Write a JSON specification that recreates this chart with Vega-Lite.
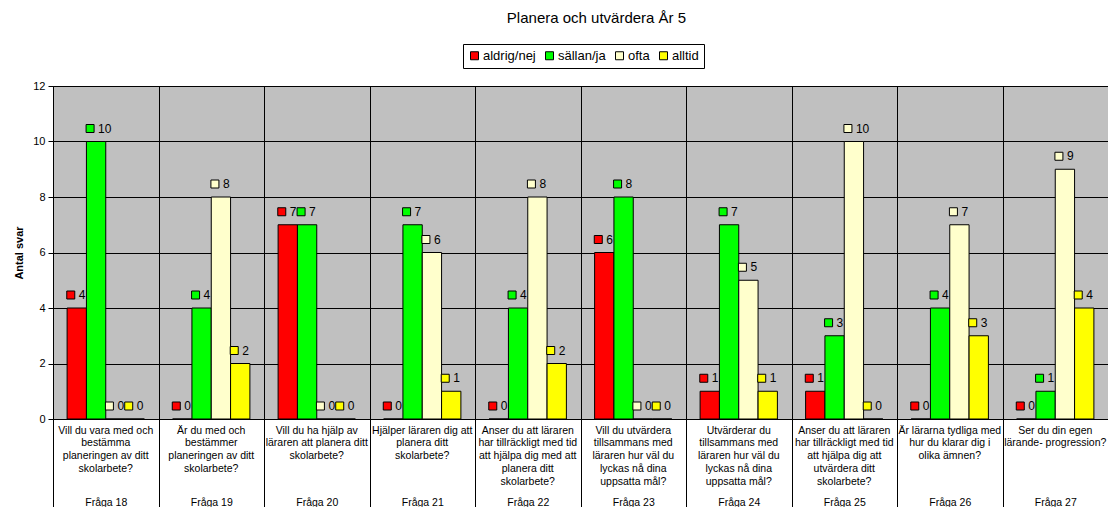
{
  "$schema": "https://vega.github.io/schema/vega-lite/v6.json",
  "autosize": "none",
  "padding": {"left": 53, "top": 86, "right": 0, "bottom": 88},
  "width": 1055,
  "height": 333,
  "background": "white",
  "title": {"text": "Planera och utvärdera År 5", "fontSize": 15, "fontWeight": "normal", "font": "Liberation Sans", "color": "black", "anchor": "middle", "dx": 16, "dy": 3, "offset": 21},
  "config": {
    "view": {"fill": "#c0c0c0", "stroke": null},
    "axis": {"domainColor": "black", "tickColor": "black", "gridColor": "black", "gridOpacity": 1, "labelColor": "black", "titleColor": "black", "labelFont": "Liberation Sans", "titleFont": "Liberation Sans"},
    "legend": {"labelFont": "Liberation Sans"}
  },
  "data": {"values": [
    {"q": "Vill du vara med och|bestämma|planeringen av ditt|skolarbete?#Fråga 18", "serie": "aldrig/nej", "antal": 4},
    {"q": "Vill du vara med och|bestämma|planeringen av ditt|skolarbete?#Fråga 18", "serie": "sällan/ja", "antal": 10},
    {"q": "Vill du vara med och|bestämma|planeringen av ditt|skolarbete?#Fråga 18", "serie": "ofta", "antal": 0},
    {"q": "Vill du vara med och|bestämma|planeringen av ditt|skolarbete?#Fråga 18", "serie": "alltid", "antal": 0},
    {"q": "Är du med och|bestämmer|planeringen av ditt|skolarbete?#Fråga 19", "serie": "aldrig/nej", "antal": 0},
    {"q": "Är du med och|bestämmer|planeringen av ditt|skolarbete?#Fråga 19", "serie": "sällan/ja", "antal": 4},
    {"q": "Är du med och|bestämmer|planeringen av ditt|skolarbete?#Fråga 19", "serie": "ofta", "antal": 8},
    {"q": "Är du med och|bestämmer|planeringen av ditt|skolarbete?#Fråga 19", "serie": "alltid", "antal": 2},
    {"q": "Vill du ha hjälp av|läraren att planera ditt|skolarbete?#Fråga 20", "serie": "aldrig/nej", "antal": 7},
    {"q": "Vill du ha hjälp av|läraren att planera ditt|skolarbete?#Fråga 20", "serie": "sällan/ja", "antal": 7},
    {"q": "Vill du ha hjälp av|läraren att planera ditt|skolarbete?#Fråga 20", "serie": "ofta", "antal": 0},
    {"q": "Vill du ha hjälp av|läraren att planera ditt|skolarbete?#Fråga 20", "serie": "alltid", "antal": 0},
    {"q": "Hjälper läraren dig att|planera ditt|skolarbete?#Fråga 21", "serie": "aldrig/nej", "antal": 0},
    {"q": "Hjälper läraren dig att|planera ditt|skolarbete?#Fråga 21", "serie": "sällan/ja", "antal": 7},
    {"q": "Hjälper läraren dig att|planera ditt|skolarbete?#Fråga 21", "serie": "ofta", "antal": 6},
    {"q": "Hjälper läraren dig att|planera ditt|skolarbete?#Fråga 21", "serie": "alltid", "antal": 1},
    {"q": "Anser du att läraren|har tillräckligt med tid|att hjälpa dig med att|planera ditt|skolarbete?#Fråga 22", "serie": "aldrig/nej", "antal": 0},
    {"q": "Anser du att läraren|har tillräckligt med tid|att hjälpa dig med att|planera ditt|skolarbete?#Fråga 22", "serie": "sällan/ja", "antal": 4},
    {"q": "Anser du att läraren|har tillräckligt med tid|att hjälpa dig med att|planera ditt|skolarbete?#Fråga 22", "serie": "ofta", "antal": 8},
    {"q": "Anser du att läraren|har tillräckligt med tid|att hjälpa dig med att|planera ditt|skolarbete?#Fråga 22", "serie": "alltid", "antal": 2},
    {"q": "Vill du utvärdera|tillsammans med|läraren hur väl du|lyckas nå dina|uppsatta mål?#Fråga 23", "serie": "aldrig/nej", "antal": 6},
    {"q": "Vill du utvärdera|tillsammans med|läraren hur väl du|lyckas nå dina|uppsatta mål?#Fråga 23", "serie": "sällan/ja", "antal": 8},
    {"q": "Vill du utvärdera|tillsammans med|läraren hur väl du|lyckas nå dina|uppsatta mål?#Fråga 23", "serie": "ofta", "antal": 0},
    {"q": "Vill du utvärdera|tillsammans med|läraren hur väl du|lyckas nå dina|uppsatta mål?#Fråga 23", "serie": "alltid", "antal": 0},
    {"q": "Utvärderar du|tillsammans med|läraren hur väl du|lyckas nå dina|uppsatta mål?#Fråga 24", "serie": "aldrig/nej", "antal": 1},
    {"q": "Utvärderar du|tillsammans med|läraren hur väl du|lyckas nå dina|uppsatta mål?#Fråga 24", "serie": "sällan/ja", "antal": 7},
    {"q": "Utvärderar du|tillsammans med|läraren hur väl du|lyckas nå dina|uppsatta mål?#Fråga 24", "serie": "ofta", "antal": 5},
    {"q": "Utvärderar du|tillsammans med|läraren hur väl du|lyckas nå dina|uppsatta mål?#Fråga 24", "serie": "alltid", "antal": 1},
    {"q": "Anser du att läraren|har tillräckligt med tid|att hjälpa dig att|utvärdera ditt|skolarbete?#Fråga 25", "serie": "aldrig/nej", "antal": 1},
    {"q": "Anser du att läraren|har tillräckligt med tid|att hjälpa dig att|utvärdera ditt|skolarbete?#Fråga 25", "serie": "sällan/ja", "antal": 3},
    {"q": "Anser du att läraren|har tillräckligt med tid|att hjälpa dig att|utvärdera ditt|skolarbete?#Fråga 25", "serie": "ofta", "antal": 10},
    {"q": "Anser du att läraren|har tillräckligt med tid|att hjälpa dig att|utvärdera ditt|skolarbete?#Fråga 25", "serie": "alltid", "antal": 0},
    {"q": "Är lärarna tydliga med|hur du klarar dig i|olika ämnen?#Fråga 26", "serie": "aldrig/nej", "antal": 0},
    {"q": "Är lärarna tydliga med|hur du klarar dig i|olika ämnen?#Fråga 26", "serie": "sällan/ja", "antal": 4},
    {"q": "Är lärarna tydliga med|hur du klarar dig i|olika ämnen?#Fråga 26", "serie": "ofta", "antal": 7},
    {"q": "Är lärarna tydliga med|hur du klarar dig i|olika ämnen?#Fråga 26", "serie": "alltid", "antal": 3},
    {"q": "Ser du din egen|lärande- progression?#Fråga 27", "serie": "aldrig/nej", "antal": 0},
    {"q": "Ser du din egen|lärande- progression?#Fråga 27", "serie": "sällan/ja", "antal": 1},
    {"q": "Ser du din egen|lärande- progression?#Fråga 27", "serie": "ofta", "antal": 9},
    {"q": "Ser du din egen|lärande- progression?#Fråga 27", "serie": "alltid", "antal": 4}
  ]},
  "encoding": {
    "xOffset": {"field": "serie", "type": "nominal", "sort": ["aldrig/nej", "sällan/ja", "ofta", "alltid"], "scale": {"paddingInner": 0, "paddingOuter": 0.73}},
    "y": {"field": "antal", "type": "quantitative", "scale": {"domain": [0, 12], "nice": false}, "axis": {"title": "Antal svar", "titleFontSize": 11, "titleFontWeight": "bold", "titlePadding": 8, "values": [0, 2, 4, 6, 8, 10, 12], "labelFontSize": 11, "tickSize": 5, "labelPadding": 3, "grid": true, "gridWidth": 1}},
    "color": {"field": "serie", "type": "nominal", "sort": ["aldrig/nej", "sällan/ja", "ofta", "alltid"], "scale": {"domain": ["aldrig/nej", "sällan/ja", "ofta", "alltid"], "range": ["#ff0000", "#00ff00", "#ffffcc", "#ffff00"]},
      "legend": {"title": null, "orient": "none", "legendX": 410, "legendY": -42, "direction": "horizontal", "symbolType": "square", "symbolSize": 64, "symbolStrokeColor": "black", "symbolStrokeWidth": 1, "symbolOpacity": 1, "labelFontSize": 13, "labelColor": "black", "labelOffset": 2, "columnPadding": 7, "padding": 5, "strokeColor": "black", "fillColor": "white", "cornerRadius": 0}}
  },
  "layer": [
    {
      "mark": {"type": "bar", "stroke": "black", "strokeWidth": 1},
      "encoding": {
        "x": {"field": "q", "type": "nominal", "sort": null, "scale": {"paddingInner": 0, "paddingOuter": 0}, "axis": {"title": null, "orient": "bottom", "labelAngle": 0, "ticks": false, "grid": false, "labelExpr": "split(split(datum.value, '#')[0], '|')", "labelFontSize": 10.5, "labelLineHeight": 12.8, "labelPadding": 6, "labelLimit": 200}}
      }
    },
    {
      "mark": {"type": "point", "filled": true, "opacity": 1, "stroke": "black", "strokeWidth": 1, "size": 64, "shape": "M -2.5 -4.25 L -0.5 -4.25 L -0.5 -2.25 L -2.5 -2.25 Z"},
      "encoding": {
        "x": {"field": "q", "type": "nominal", "sort": null, "axis": null}
      }
    },
    {
      "mark": {"type": "text", "align": "left", "baseline": "middle", "dx": 2, "dy": -13, "fontSize": 12, "font": "Liberation Sans", "color": "black"},
      "encoding": {
        "x": {"field": "q", "type": "nominal", "sort": null, "axis": {"title": null, "orient": "bottom", "labelAngle": 0, "domain": false, "ticks": true, "tickSize": 88, "tickBand": "extent", "grid": true, "gridWidth": 1, "labelExpr": "split(datum.value, '#')[1]", "labelFontSize": 10.5, "labelPadding": -10}},
        "text": {"field": "antal", "type": "quantitative"},
        "color": {"value": "black"}
      }
    }
  ],
  "resolve": {"axis": {"x": "independent"}}
}
